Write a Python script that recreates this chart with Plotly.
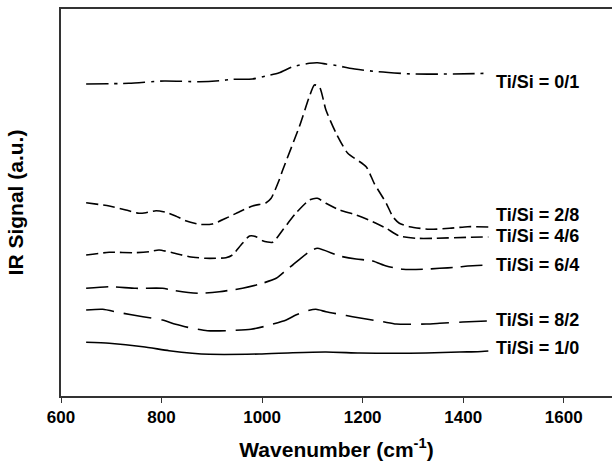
import plotly.graph_objects as go

# Wavenumber (cm-1) and IR signal (a.u., offset traces)
wn_01 = [650, 735, 805, 875, 915, 941, 981, 1008, 1034, 1061, 1094, 1110, 1127, 1154, 1174, 1230, 1300, 1380, 1450]
ir_01 = [312, 312.7, 315, 314.3, 315.3, 316.7, 317, 320, 323.3, 329.3, 332.7, 333.3, 332, 330, 327.7, 324.3, 322, 322, 322.7]

wn_28 = [650, 696, 729, 755, 769, 789, 809, 828, 848, 875, 901, 928, 955, 981, 1008, 1018, 1034, 1041, 1074, 1094, 1104,
         1114, 1127, 1147, 1170, 1207, 1223, 1247, 1260, 1273, 1293, 1333, 1373, 1409, 1450]
ir_28 = [193.3, 190, 186, 182.7, 183.3, 185.3, 183.7, 180, 175.3, 171.7, 172, 177.7, 184.3, 190, 193.3, 197.7, 216, 226,
         269.3, 299.3, 311, 309.3, 286, 263, 243, 229.3, 212.7, 192.7, 179.3, 172.7, 169.3, 166.7, 167.7, 169.3, 169]

wn_46 = [650, 696, 749, 775, 795, 822, 855, 888, 928, 941, 958, 975, 988, 1001, 1021, 1041, 1067, 1094, 1110, 1127,
         1154, 1187, 1220, 1247, 1273, 1307, 1346, 1409, 1450]
ir_46 = [141, 143.7, 143.3, 144.3, 146, 143.3, 139.3, 137.7, 138.3, 141, 151, 160, 159.3, 155.3, 153.7, 166, 182.7,
         196, 197.7, 192.7, 186, 181, 174.3, 167.7, 160, 157.7, 157.7, 158.7, 159]

wn_64 = [650, 696, 749, 802, 828, 875, 915, 961, 994, 1028, 1048, 1061, 1094, 1110, 1154, 1187, 1220, 1247, 1280,
         1320, 1353, 1386, 1409, 1450]
ir_64 = [107.7, 109.3, 107.7, 107.7, 105.3, 102.7, 104.3, 107.7, 111.7, 117.7, 126, 131, 144.3, 147.7, 140, 137, 135,
         130, 126.7, 126.7, 127.7, 128.7, 130, 131]

wn_82 = [650, 683, 717, 763, 802, 828, 861, 891, 928, 978, 1008, 1048, 1067, 1091, 1107, 1127, 1154, 1180, 1240,
         1267, 1326, 1353, 1399, 1450]
ir_82 = [86, 86.7, 83.3, 79.3, 76, 71.7, 67.7, 65.3, 65.3, 66.7, 70, 76, 81, 85.3, 86.7, 84.3, 81.7, 79.3, 74.3,
         72, 72, 72.7, 74, 75]

wn_10 = [650, 696, 763, 815, 861, 895, 994, 1061, 1127, 1194, 1260, 1326, 1393, 1429, 1450]
ir_10 = [53.7, 52.7, 49.3, 45.3, 42.7, 41.7, 42, 43.3, 44, 43, 42.7, 43, 44, 44.3, 45]

labels = ["Ti/Si = 0/1", "Ti/Si = 2/8", "Ti/Si = 4/6", "Ti/Si = 6/4", "Ti/Si = 8/2", "Ti/Si = 1/0"]
label_y = [314, 181, 160, 131, 76, 48]
label_x = 1462

x_ticks = [600, 800, 1000, 1200, 1400, 1600]

series = [
    (wn_01, ir_01, "22px,6px,3px,6px"),
    (wn_28, ir_28, "12px,5px"),
    (wn_46, ir_46, "12px,5px"),
    (wn_64, ir_64, "22px,8px"),
    (wn_82, ir_82, "28px,10px"),
    (wn_10, ir_10, "solid"),
]

FONT = "Liberation Sans, Arial"

fig = go.Figure()
for (xs, ys, dash), name in zip(series, labels):
    fig.add_trace(go.Scatter(x=xs, y=ys, mode="lines", name=name,
                             line=dict(color="black", width=1.6, dash=dash, shape="spline", smoothing=0.6)))

for name, yv in zip(labels, label_y):
    fig.add_annotation(x=label_x, y=yv, text="<b>" + name + "</b>", showarrow=False, xanchor="left", yanchor="middle",
                       font=dict(family=FONT, size=18, color="black"))

fig.update_layout(
    width=612, height=466,
    margin=dict(l=61, r=0, t=9, b=70),
    paper_bgcolor="white", plot_bgcolor="white",
    showlegend=False,
    font=dict(family=FONT, color="black"),
)
fig.update_xaxes(range=[600, 1696], tickvals=x_ticks, ticktext=["<b>%d</b>" % v for v in x_ticks],
                 ticks="outside", ticklen=5, tickwidth=1.2, tickcolor="#333", automargin=False,
                 showline=True, linecolor="#333", linewidth=1.5, mirror=True, showgrid=False, zeroline=False,
                 tickfont=dict(family=FONT, size=17, color="black"),
                 title=dict(text="<b>Wavenumber (cm<sup>-1</sup>)</b>", font=dict(family=FONT, size=21, color="black"),
                            standoff=16))
fig.update_yaxes(range=[0, 387], showticklabels=False, ticks="", automargin=False,
                 showline=True, linecolor="#333", linewidth=1.5, mirror=False, showgrid=False, zeroline=False,
                 title=dict(text="<b>IR Signal (a.u.)</b>", font=dict(family=FONT, size=21, color="black"),
                            standoff=30))

post = ("document.body.style.margin='0';document.body.style.padding='0';"
        "document.body.style.overflow='hidden';"
        "var gd=document.getElementById('{plot_id}');"
        "Plotly.relayout(gd,{width:612,height:466});")

fig.write_html("out.html", config={"responsive": False, "displayModeBar": False}, post_script=post)
